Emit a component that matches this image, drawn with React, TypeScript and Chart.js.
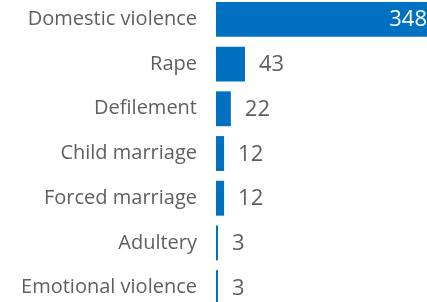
import React, { useEffect, useRef } from "react";
import { Chart, registerables } from "chart.js";

Chart.register(...registerables);

const categories = [
  "Domestic violence",
  "Rape",
  "Defilement",
  "Child marriage",
  "Forced marriage",
  "Adultery",
  "Emotional violence",
];
const values = [348, 43, 22, 12, 12, 3, 3];
const xMax = 313;

const BAR = "#0070C0";
const TEXT = "#5f5f5f";
const FONT = "'Open Sans', sans-serif";

const valueLabels = {
  id: "valueLabels",
  afterDatasetsDraw(chart: any) {
    const ctx = chart.ctx;
    const meta = chart.getDatasetMeta(0);
    const area = chart.chartArea;
    ctx.save();
    ctx.font = `22px ${FONT}`;
    ctx.textBaseline = "middle";
    meta.data.forEach((bar: any, i: number) => {
      const v = values[i];
      const text = String(v);
      if (bar.x > area.right) {
        ctx.fillStyle = "#ffffff";
        ctx.textAlign = "right";
        ctx.fillText(text, area.right, bar.y);
      } else {
        ctx.fillStyle = TEXT;
        ctx.textAlign = "left";
        ctx.fillText(text, bar.x + 14, bar.y + 1);
      }
    });
    ctx.restore();
  },
};

export default function App() {
  const ref = useRef<HTMLCanvasElement>(null);
  useEffect(() => {
    if (!ref.current) return;
    const chart = new Chart(ref.current, {
      type: "bar",
      data: {
        labels: categories,
        datasets: [
          {
            data: values,
            backgroundColor: BAR,
            borderWidth: 0,
            categoryPercentage: 1,
            barPercentage: 0.78,
          },
        ],
      },
      options: {
        indexAxis: "y",
        animation: false,
        responsive: false,
        maintainAspectRatio: false,
        layout: { padding: 0 },
        plugins: {
          legend: { display: false },
          tooltip: { enabled: false },
          title: { display: false },
        },
        scales: {
          x: {
            min: 0,
            max: xMax,
            display: false,
          },
          y: {
            grid: { display: false, drawTicks: false },
            border: { display: false },
            ticks: {
              color: TEXT,
              font: { family: FONT, size: 20 },
              padding: 19,
            },
            afterFit: (axis: any) => {
              axis.width = 216;
              axis.paddingTop = 0;
              axis.paddingBottom = 0;
            },
          },
        },
      },
      plugins: [valueLabels],
    });
    return () => chart.destroy();
  }, []);
  return (
    <div
      style={{
        position: "fixed",
        left: 0,
        top: 0,
        width: 427,
        height: 302,
        overflow: "hidden",
        background: "#fff",
      }}
    >
      <canvas
        ref={ref}
        width={427}
        height={313}
        style={{ position: "absolute", left: 0, top: -3, width: 427, height: 313 }}
      />
    </div>
  );
}
